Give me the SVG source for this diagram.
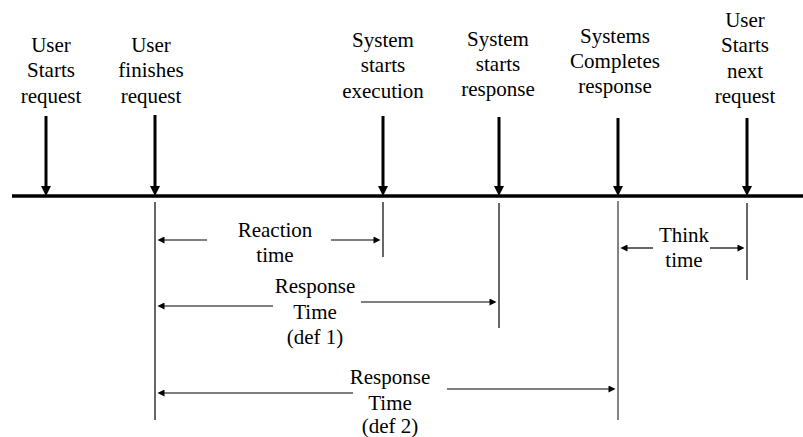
<svg xmlns="http://www.w3.org/2000/svg" width="803" height="437" viewBox="0 0 803 437">
<defs>
<marker id="big" viewBox="0 0 10 10" refX="4" refY="5" markerWidth="10" markerHeight="10" markerUnits="userSpaceOnUse" orient="auto">
<path d="M0,0 L10,5 L0,10 z" fill="#000"/>
</marker>
<marker id="sm" viewBox="0 0 10 10" refX="5" refY="5" markerWidth="8" markerHeight="7" markerUnits="userSpaceOnUse" orient="auto">
<path d="M0,0 L10,5 L0,10 z" fill="#000"/>
</marker>
</defs>
<rect width="803" height="437" fill="#fff"/>

<g id="timeline"><line x1="12" y1="196" x2="803" y2="196" stroke="#000" stroke-width="3.5"/></g>

<g id="ev-user-starts"><text font-family="Times New Roman" font-size="21" text-anchor="middle" x="51" y="52">User</text><text font-family="Times New Roman" font-size="21" text-anchor="middle" x="51" y="77">Starts</text><text font-family="Times New Roman" font-size="21" text-anchor="middle" x="51" y="103">request</text></g>
<g id="ev-user-finishes"><text font-family="Times New Roman" font-size="21" text-anchor="middle" x="151" y="52">User</text><text font-family="Times New Roman" font-size="21" text-anchor="middle" x="151" y="77">finishes</text><text font-family="Times New Roman" font-size="21" text-anchor="middle" x="151" y="103">request</text></g>
<g id="ev-sys-exec"><text font-family="Times New Roman" font-size="21" text-anchor="middle" x="383" y="47">System</text><text font-family="Times New Roman" font-size="21" text-anchor="middle" x="383" y="72">starts</text><text font-family="Times New Roman" font-size="21" text-anchor="middle" x="383" y="98">execution</text></g>
<g id="ev-sys-resp"><text font-family="Times New Roman" font-size="21" text-anchor="middle" x="498" y="46">System</text><text font-family="Times New Roman" font-size="21" text-anchor="middle" x="498" y="71">starts</text><text font-family="Times New Roman" font-size="21" text-anchor="middle" x="498" y="96">response</text></g>
<g id="ev-sys-complete"><text font-family="Times New Roman" font-size="21" text-anchor="middle" x="615" y="43">Systems</text><text font-family="Times New Roman" font-size="21" text-anchor="middle" x="615" y="68">Completes</text><text font-family="Times New Roman" font-size="21" text-anchor="middle" x="615" y="93">response</text></g>
<g id="ev-user-next"><text font-family="Times New Roman" font-size="21" text-anchor="middle" x="745" y="27">User</text><text font-family="Times New Roman" font-size="21" text-anchor="middle" x="745" y="52">Starts</text><text font-family="Times New Roman" font-size="21" text-anchor="middle" x="745" y="78">next</text><text font-family="Times New Roman" font-size="21" text-anchor="middle" x="745" y="103">request</text></g>

<g id="lbl-reaction"><text font-family="Times New Roman" font-size="21" text-anchor="middle" x="275" y="237">Reaction</text><text font-family="Times New Roman" font-size="21" text-anchor="middle" x="275" y="262">time</text></g>
<g id="lbl-think"><text font-family="Times New Roman" font-size="21" text-anchor="middle" x="684" y="242">Think</text><text font-family="Times New Roman" font-size="21" text-anchor="middle" x="684" y="267">time</text></g>
<g id="lbl-resp1"><text font-family="Times New Roman" font-size="21" text-anchor="middle" x="315" y="293">Response</text><text font-family="Times New Roman" font-size="21" text-anchor="middle" x="315" y="319">Time</text><text font-family="Times New Roman" font-size="21" text-anchor="middle" x="315" y="344">(def 1)</text></g>
<g id="lbl-resp2"><text font-family="Times New Roman" font-size="21" text-anchor="middle" x="390" y="384">Response</text><text font-family="Times New Roman" font-size="21" text-anchor="middle" x="390" y="410">Time</text><text font-family="Times New Roman" font-size="21" text-anchor="middle" x="390" y="433">(def 2)</text></g>

<g id="connectors">
<g stroke="#000" stroke-width="3" fill="none" marker-end="url(#big)">
<line x1="46" y1="116" x2="46" y2="190"/>
<line x1="155" y1="115" x2="155" y2="190"/>
<line x1="383" y1="116" x2="383" y2="190"/>
<line x1="499" y1="117" x2="499" y2="190"/>
<line x1="618" y1="118" x2="618" y2="190"/>
<line x1="747" y1="118" x2="747" y2="190"/>
</g>
<g stroke="#000" stroke-width="1.2" fill="none">
<line x1="155" y1="202" x2="155" y2="420"/>
<line x1="383" y1="202" x2="383" y2="257"/>
<line x1="499" y1="203" x2="499" y2="328"/>
<line x1="747" y1="203" x2="747" y2="280"/>
</g>
<line x1="618" y1="201" x2="618" y2="420" stroke="#777" stroke-width="1.8"/>
<g stroke="#000" stroke-width="1.2" fill="none" marker-end="url(#sm)">
<line x1="207" y1="240" x2="161" y2="240"/>
<line x1="331" y1="240" x2="377" y2="240"/>
<line x1="653" y1="248" x2="624" y2="248"/>
<line x1="710" y1="248" x2="741" y2="248"/>
<line x1="273" y1="306" x2="161" y2="306"/>
<line x1="361" y1="302" x2="493" y2="302"/>
</g>
<g stroke="#555" stroke-width="1.4" fill="none" marker-end="url(#sm)">
<line x1="353" y1="393" x2="161" y2="393"/>
<line x1="447" y1="389" x2="612" y2="389"/>
</g>
</g>
</svg>
